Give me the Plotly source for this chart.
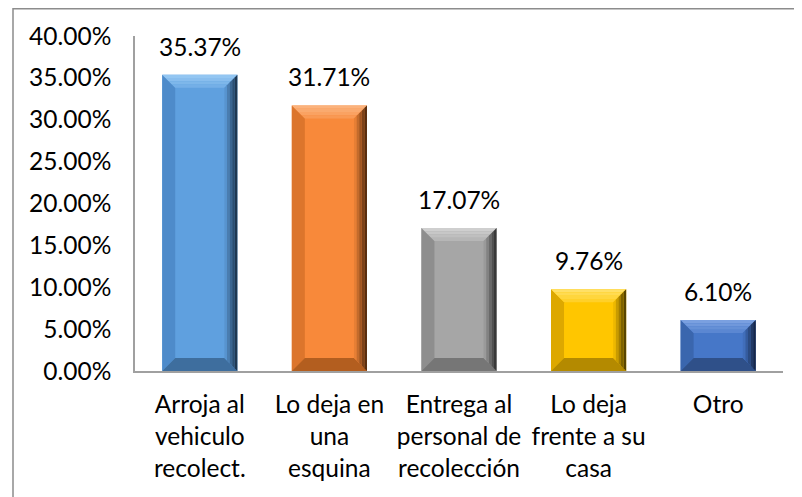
import plotly.graph_objects as go

categories = ["Arroja al<br>vehiculo<br>recolect.", "Lo deja en<br>una<br>esquina",
              "Entrega al<br>personal de<br>recolección", "Lo deja<br>frente a su<br>casa", "Otro"]
values = [0.3537, 0.3171, 0.1707, 0.0976, 0.0610]
face_colors = ["#5FA0DF", "#F8893A", "#A6A6A6", "#FFC600", "#4677C8"]
top_colors = ["#93C6F2", "#FBB27C", "#CFCFCF", "#FFE066", "#7AA0E0"]
left_colors = ["#4E8BCA", "#DC752C", "#8E8E8E", "#DDA800", "#3A66AE"]
bottom_colors = ["#3E6E9E", "#B35E1F", "#767676", "#B48A00", "#2F5089"]
right_colors = ["#14263A", "#3D1E08", "#262626", "#3D2F00", "#0E1A33"]
y_ticks = [0, 0.05, 0.10, 0.15, 0.20, 0.25, 0.30, 0.35, 0.40]

FONT = "Lato"
FS = 24.5
# page has an 8px body margin, so the figure is sized/shifted to compensate
W, H = 794, 489
ML, MR, MT, MB = 127, 19, 28, 126
BAR_W = 0.58
px_x = (W - ML - MR) / len(categories)
px_y = (H - MT - MB) / 0.40
bv_x = 13 / px_x
bv_y = 13 / px_y


def hexmix(c1, c2, t):
    a = [int(c1[i:i + 2], 16) for i in (1, 3, 5)]
    b = [int(c2[i:i + 2], 16) for i in (1, 3, 5)]
    return "#" + "".join(f"{round(a[k] + (b[k] - a[k]) * t):02x}" for k in range(3))


def poly(pts):
    return "M " + " L ".join(f"{x},{y}" for x, y in pts) + " Z"


fig = go.Figure()
fig.add_trace(go.Bar(
    x=list(range(len(categories))), y=values, width=BAR_W,
    marker=dict(color=face_colors, line=dict(width=0)),
    hoverinfo="skip",
))

shapes = []
for i, v in enumerate(values):
    L, R, T, B = i - BAR_W / 2, i + BAR_W / 2, v, 0
    # left bevel
    shapes.append(dict(type="path", xref="x", yref="y", layer="above",
                       path=poly([(L, B), (L, T), (L + bv_x, T - bv_y), (L + bv_x, B + bv_y)]),
                       fillcolor=left_colors[i], line=dict(width=0)))
    # bottom bevel
    shapes.append(dict(type="path", xref="x", yref="y", layer="above",
                       path=poly([(L, B), (R, B), (R - bv_x, B + bv_y), (L + bv_x, B + bv_y)]),
                       fillcolor=bottom_colors[i], line=dict(width=0)))
    # top bevel gradient
    n = 4
    for k in range(n):
        y0 = T - bv_y * k / n
        y1 = T - bv_y * (k + 1) / n
        d0 = bv_x * k / n
        d1 = bv_x * (k + 1) / n
        col = hexmix(top_colors[i], face_colors[i], k / (n - 1) * 0.6)
        shapes.append(dict(type="path", xref="x", yref="y", layer="above",
                           path=poly([(L + d0, y0), (R - d0, y0), (R - d1, y1), (L + d1, y1)]),
                           fillcolor=col, line=dict(width=0)))
    # right bevel gradient
    n = 5
    for k in range(n):
        x0 = R - bv_x + bv_x * k / n
        x1 = R - bv_x + bv_x * (k + 1) / n
        f0 = (x0 - (R - bv_x)) / bv_x
        f1 = (x1 - (R - bv_x)) / bv_x
        col = hexmix(face_colors[i], right_colors[i], (k + 0.5) / n * 0.95)
        shapes.append(dict(type="path", xref="x", yref="y", layer="above",
                           path=poly([(x0, T - bv_y * (1 - f0)), (x1, T - bv_y * (1 - f1)),
                                      (x1, B + bv_y * (1 - f1)), (x0, B + bv_y * (1 - f0))]),
                           fillcolor=col, line=dict(width=0)))

# outer chart border (extends past the right and bottom edges of the window)
PW, PH = W - ML - MR, H - MT - MB
shapes.append(dict(type="rect", xref="paper", yref="paper",
                   x0=(5 - ML) / PW, x1=(W + 20 - ML) / PW,
                   y0=-(MB + 20) / PH, y1=(PH + MT - 0) / PH - 0.0,
                   line=dict(color="#8C8C8C", width=1.5), fillcolor="rgba(0,0,0,0)"))
# put top edge at 7px from page top (=> -1px in figure coords would be cut); keep at 0.75px
shapes[-1]["y1"] = (PH + MT - 0.75) / PH

annotations = []
for i, v in enumerate(values):
    annotations.append(dict(x=i, y=v, xref="x", yref="y", text=f"{v * 100:.2f}%",
                            showarrow=False, yanchor="bottom", yshift=12,
                            font=dict(family=FONT, size=FS, color="#000000")))

fig.update_layout(
    width=W, height=H,
    margin=dict(l=ML, r=MR, t=MT, b=MB, pad=0),
    paper_bgcolor="white", plot_bgcolor="white",
    showlegend=False,
    shapes=shapes, annotations=annotations,
    font=dict(family=FONT, size=FS, color="#000000"),
)
fig.update_xaxes(
    tickmode="array", tickvals=list(range(len(categories))), ticktext=categories,
    range=[-0.5, len(categories) - 0.5],
    showline=True, linecolor="#A0A0A0", linewidth=1.5,
    showgrid=False, zeroline=False, ticks="", ticklabelstandoff=11,
    tickfont=dict(family=FONT, size=FS, color="#000000"),
)
fig.update_yaxes(
    range=[0, 0.40], tickvals=y_ticks, tickformat=".2%",
    showline=True, linecolor="#A0A0A0", linewidth=1.5,
    showgrid=False, zeroline=False, ticks="", ticklabelstandoff=17,
    tickfont=dict(family=FONT, size=FS, color="#000000"),
)

fig.write_html("out.html")
